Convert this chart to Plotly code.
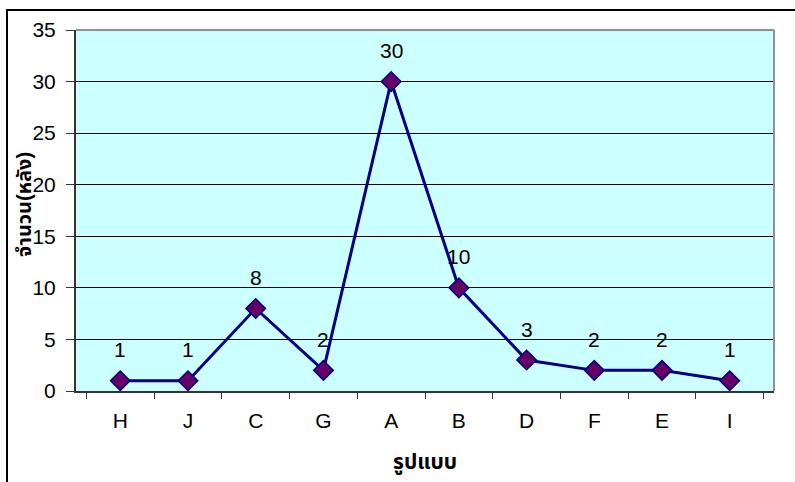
import plotly.graph_objects as go

# Number of houses per style
styles = ["H", "J", "C", "G", "A", "B", "D", "F", "E", "I"]
counts = [1, 1, 8, 2, 30, 10, 3, 2, 2, 1]
y_ticks = [0, 5, 10, 15, 20, 25, 30, 35]

FONT = "Liberation Sans, Arial, Noto Sans Thai, DejaVu Sans, sans-serif"
W, H = 795, 482
ML, MR, MT, MB = 76, 21, 30, 91
PW, PH = W - ML - MR, H - MT - MB

fig = go.Figure()
fig.add_trace(go.Scatter(
    x=styles, y=counts, mode="lines+markers",
    line=dict(color="#000080", width=3),
    marker=dict(symbol="diamond", size=15, color="#660066",
                line=dict(color="#000080", width=1.5)),
    cliponaxis=False, showlegend=False,
))

# value labels above each point
for s, c in zip(styles, counts):
    fig.add_annotation(x=s, y=c, text=str(c), showarrow=False,
                       yshift=31, font=dict(size=21, color="black", family=FONT))

fig.update_layout(
    width=W, height=H,
    margin=dict(l=ML, r=MR, t=MT, b=MB),
    paper_bgcolor="white", plot_bgcolor="#CCFFFF",
    font=dict(family=FONT, size=21, color="black"),
    xaxis=dict(
        type="category", categoryorder="array", categoryarray=styles,
        tickson="boundaries", ticks="outside", ticklen=6, tickcolor="#333333",
        showgrid=False, showline=True, linecolor="#333333", linewidth=2,
        tickfont=dict(size=21), ticklabelstandoff=10,
    ),
    yaxis=dict(
        range=[0, 35], tickvals=y_ticks, ticks="outside", ticklen=8,
        tickcolor="#333333", showgrid=True, gridcolor="black", gridwidth=1,
        zeroline=False, showline=True, linecolor="#333333", linewidth=2,
        tickfont=dict(size=21), ticklabelstandoff=6,
    ),
)

# axis titles
fig.add_annotation(xref="paper", yref="paper", x=0.5, y=-(462 - 391) / PH,
                   xanchor="center", yanchor="middle",
                   text="<b>รูปแบบ</b>", showarrow=False, font=dict(size=21))
fig.add_annotation(xref="paper", yref="paper", x=(24 - ML) / PW, y=1 - (205 - MT) / PH,
                   xanchor="center", yanchor="middle",
                   text="<b>จำนวน(หลัง)</b>", textangle=-90, showarrow=False,
                   font=dict(size=20))

# grey frame on top/right of the plotting area
fig.add_shape(type="line", xref="paper", yref="paper", x0=0, x1=1, y0=1, y1=1,
              line=dict(color="#909090", width=2), layer="above")
fig.add_shape(type="line", xref="paper", yref="paper", x0=1, x1=1, y0=0, y1=1,
              line=dict(color="#909090", width=2), layer="above")

# outer chart border
fx0 = (7 - ML) / PW
fy1 = 1 + (MT - 10) / PH
fig.add_shape(type="rect", xref="paper", yref="paper",
              x0=fx0, x1=1.2, y0=-0.5, y1=fy1,
              line=dict(color="black", width=2), layer="above")

fig.write_html("out.html")
